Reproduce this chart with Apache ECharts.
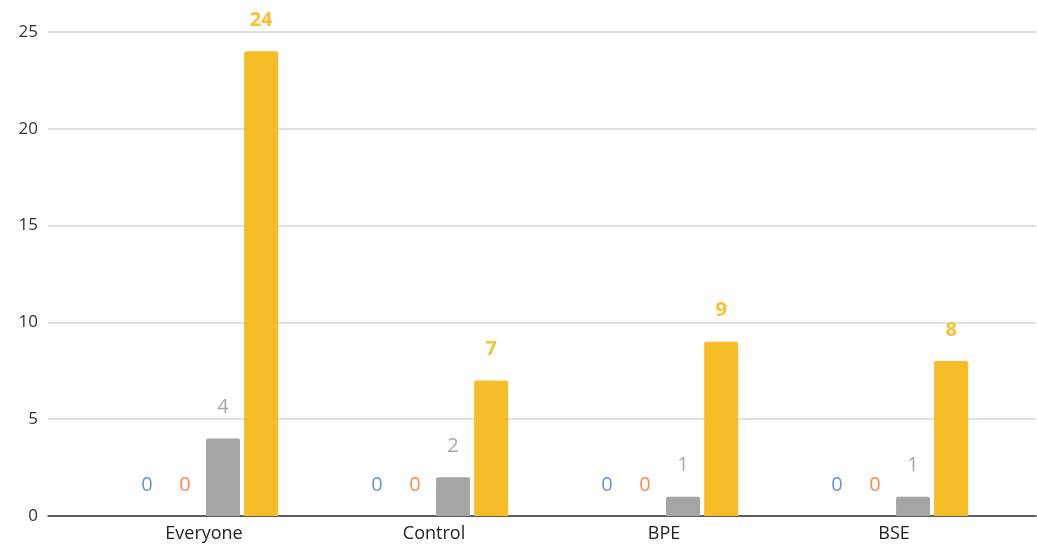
<!DOCTYPE html>
<html>
<head>
<meta charset="utf-8">
<script src="https://cdn.jsdelivr.net/npm/echarts@6/dist/echarts.min.js"></script>
<style>
  html, body { margin: 0; padding: 0; background: #ffffff; }
  #chart { width: 1037px; height: 546px; }
</style>
</head>
<body>
<div id="chart"></div>
<script>
// Groups along the x axis
const categories = ['Everyone', 'Control', 'BPE', 'BSE'];

// Counts per group, one array per series
const seriesBlue = [0, 0, 0, 0];
const seriesOrange = [0, 0, 0, 0];
const seriesGray = [4, 2, 1, 1];
const seriesYellow = [24, 7, 9, 8];

// Value axis range
const yMin = 0;
const yMax = 25;
const yStep = 5;

const FONT = '"Open Sans", "Noto Sans", sans-serif';

function barSeries(name, data, color, labelColor, bold) {
  return {
    name: name,
    type: 'bar',
    xAxisIndex: 1,
    yAxisIndex: 1,
    data: data,
    barWidth: 34,
    barGap: '12%',
    itemStyle: { color: color, borderRadius: [2, 2, 0, 0] },
    label: {
      show: true,
      position: 'top',
      distance: 21,
      color: labelColor,
      fontFamily: FONT,
      fontSize: 20,
      fontWeight: bold ? 'bold' : 'normal'
    }
  };
}

const chart = echarts.init(document.getElementById('chart'), null, { renderer: 'canvas' });

chart.setOption({
  animation: false,
  backgroundColor: '#ffffff',
  grid: [
    // full-width frame carrying the value axis and its gridlines
    { left: 48, right: 1, top: 32, bottom: 30 },
    // inner area where the grouped bars sit
    { left: 89, right: 28, top: 32, bottom: 30 }
  ],
  xAxis: [
    {
      type: 'category',
      gridIndex: 0,
      data: [''],
      axisLine: { show: true, lineStyle: { color: '#333333', width: 1.5 } },
      axisTick: { show: false },
      axisLabel: { show: false }
    },
    {
      type: 'category',
      gridIndex: 1,
      data: categories,
      axisLine: { show: false },
      axisTick: { show: false },
      axisLabel: {
        color: '#222222',
        fontFamily: FONT,
        fontSize: 18,
        margin: 9
      }
    }
  ],
  yAxis: [
    {
      type: 'value',
      gridIndex: 0,
      min: yMin,
      max: yMax,
      interval: yStep,
      axisLine: { show: false },
      axisTick: { show: false },
      splitLine: { lineStyle: { color: '#d6d6d6', width: 1.5 } },
      axisLabel: {
        color: '#333333',
        fontFamily: FONT,
        fontSize: 17,
        margin: 10
      }
    },
    {
      type: 'value',
      gridIndex: 1,
      min: yMin,
      max: yMax,
      interval: yStep,
      show: false,
      splitLine: { show: false }
    }
  ],
  series: [
    barSeries('Series 1', seriesBlue, '#4472c4', '#6f91d8', false),
    barSeries('Series 2', seriesOrange, '#ed7d31', '#ef8f55', false),
    barSeries('Series 3', seriesGray, '#a5a5a5', '#a8a8a8', false),
    barSeries('Series 4', seriesYellow, '#f6bd28', '#f8c032', true)
  ]
});
</script>
</body>
</html>
